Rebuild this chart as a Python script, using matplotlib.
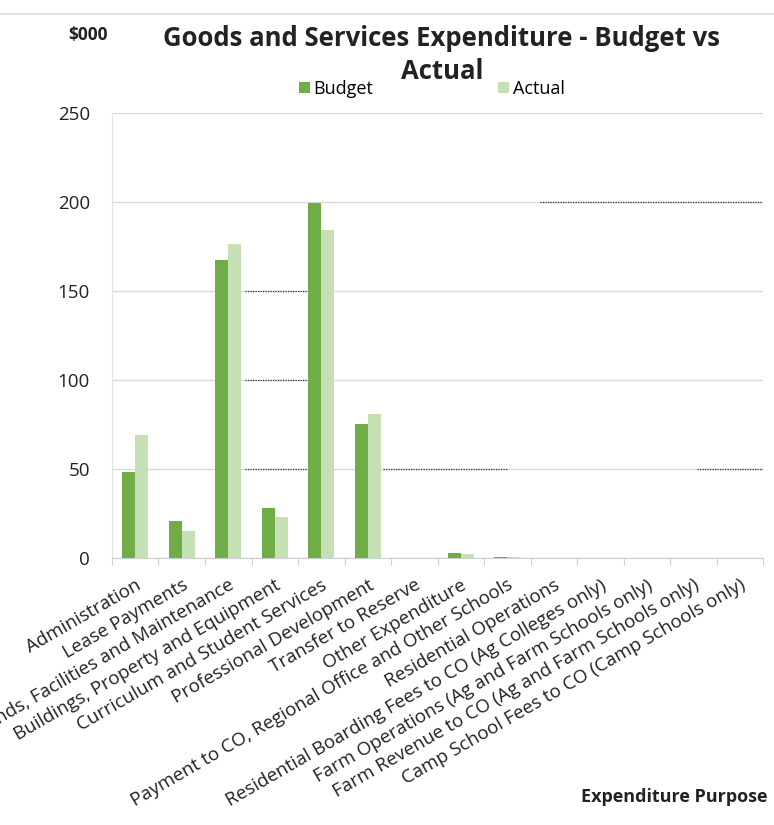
import matplotlib
matplotlib.use("Agg")
import matplotlib.pyplot as plt
import numpy as np

categories = [
    "Administration",
    "Lease Payments",
    "Grounds, Facilities and Maintenance",
    "Buildings, Property and Equipment",
    "Curriculum and Student Services",
    "Professional Development",
    "Transfer to Reserve",
    "Other Expenditure",
    "Payment to CO, Regional Office and Other Schools",
    "Residential Operations",
    "Residential Boarding Fees to CO (Ag Colleges only)",
    "Farm Operations (Ag and Farm Schools only)",
    "Farm Revenue to CO (Ag and Farm Schools only)",
    "Camp School Fees to CO (Camp Schools only)",
]
budget = [48, 21, 167, 28, 199, 75, 0, 3, 0.5, 0, 0, 0, 0, 0]
actual = [69, 15, 176, 23, 184, 81, 0, 2.5, 0.3, 0, 0, 0, 0, 0]
yticks = [0, 50, 100, 150, 200, 250]

FONT = ["Open Sans", "DejaVu Sans"]
plt.rcParams["font.family"] = FONT

fig = plt.figure(figsize=(7.74, 8.25), dpi=100)
ax = fig.add_axes([0.1447, 0.3236, 0.8411, 0.54])

x = np.arange(len(categories))
w = 0.28
ax.bar(x - w / 2, budget, width=w, color="#70AD47", label="Budget", zorder=3)
ax.bar(x + w / 2, actual, width=w, color="#C5E0B4", label="Actual", zorder=3)

ax.set_xlim(-0.5, len(categories) - 0.5)
ax.set_ylim(0, 250)
ax.set_yticks(yticks)
ax.set_yticklabels([str(v) for v in yticks], fontsize=13.5, color="#222222")
ax.yaxis.grid(True, color="#d9d9d9", linewidth=1.0, zorder=0)
ax.tick_params(axis="y", length=0, pad=16)

# category ticks at boundaries
ax.set_xticks(np.arange(len(categories) + 1) - 0.5, minor=False)
ax.set_xticklabels([])
ax.tick_params(axis="x", length=5, color="#cfcfcf", width=0.8)
ax.set_xticks(x, minor=True)
ax.set_xticklabels(categories, minor=True, rotation=30, ha="right",
                   rotation_mode="anchor", fontsize=13.5, color="#222222")
ax.tick_params(axis="x", which="minor", length=0, pad=13)

for s in ["top", "right"]:
    ax.spines[s].set_visible(False)
ax.spines["left"].set_color("#e3e3e3")
ax.spines["bottom"].set_color("#cfcfcf")

# scan artefacts (dark dotted segments over gridlines)
seg_style = dict(color="#333333", linewidth=0.9, linestyle=(0, (1, 1)), zorder=2)
for yv in [150, 100, 50]:
    ax.plot([2.36, 3.76], [yv, yv], **seg_style)
ax.plot([5.33, 8.0], [50, 50], **seg_style)
ax.plot([8.7, 13.5], [200, 200], **seg_style)
ax.plot([12.08, 13.5], [50, 50], **seg_style)

# titles and labels
fig.text(0.571, 0.953, "Goods and Services Expenditure - Budget vs",
         ha="center", va="center", fontsize=18.5, fontweight="bold", color="#222222")
fig.text(0.571, 0.913, "Actual", ha="center", va="center",
         fontsize=18.5, fontweight="bold", color="#222222")
fig.text(0.114, 0.958, "$000", ha="center", va="center",
         fontsize=12.5, fontweight="bold", color="#222222")
fig.text(0.871, 0.034, "Expenditure Purpose", ha="center", va="center",
         fontsize=13, fontweight="bold", color="#222222")

leg = fig.legend(loc="center", bbox_to_anchor=(0.558, 0.892), ncol=2,
                 frameon=False, fontsize=13, handlelength=0.6, handleheight=0.6,
                 handletextpad=0.2, columnspacing=6.9)

fig.add_artist(plt.Line2D([0.0, 1.0], [0.983, 0.983], color="#dcdcdc",
                          linewidth=1.2, transform=fig.transFigure))

fig.savefig("out.png", dpi=100, facecolor="white")
